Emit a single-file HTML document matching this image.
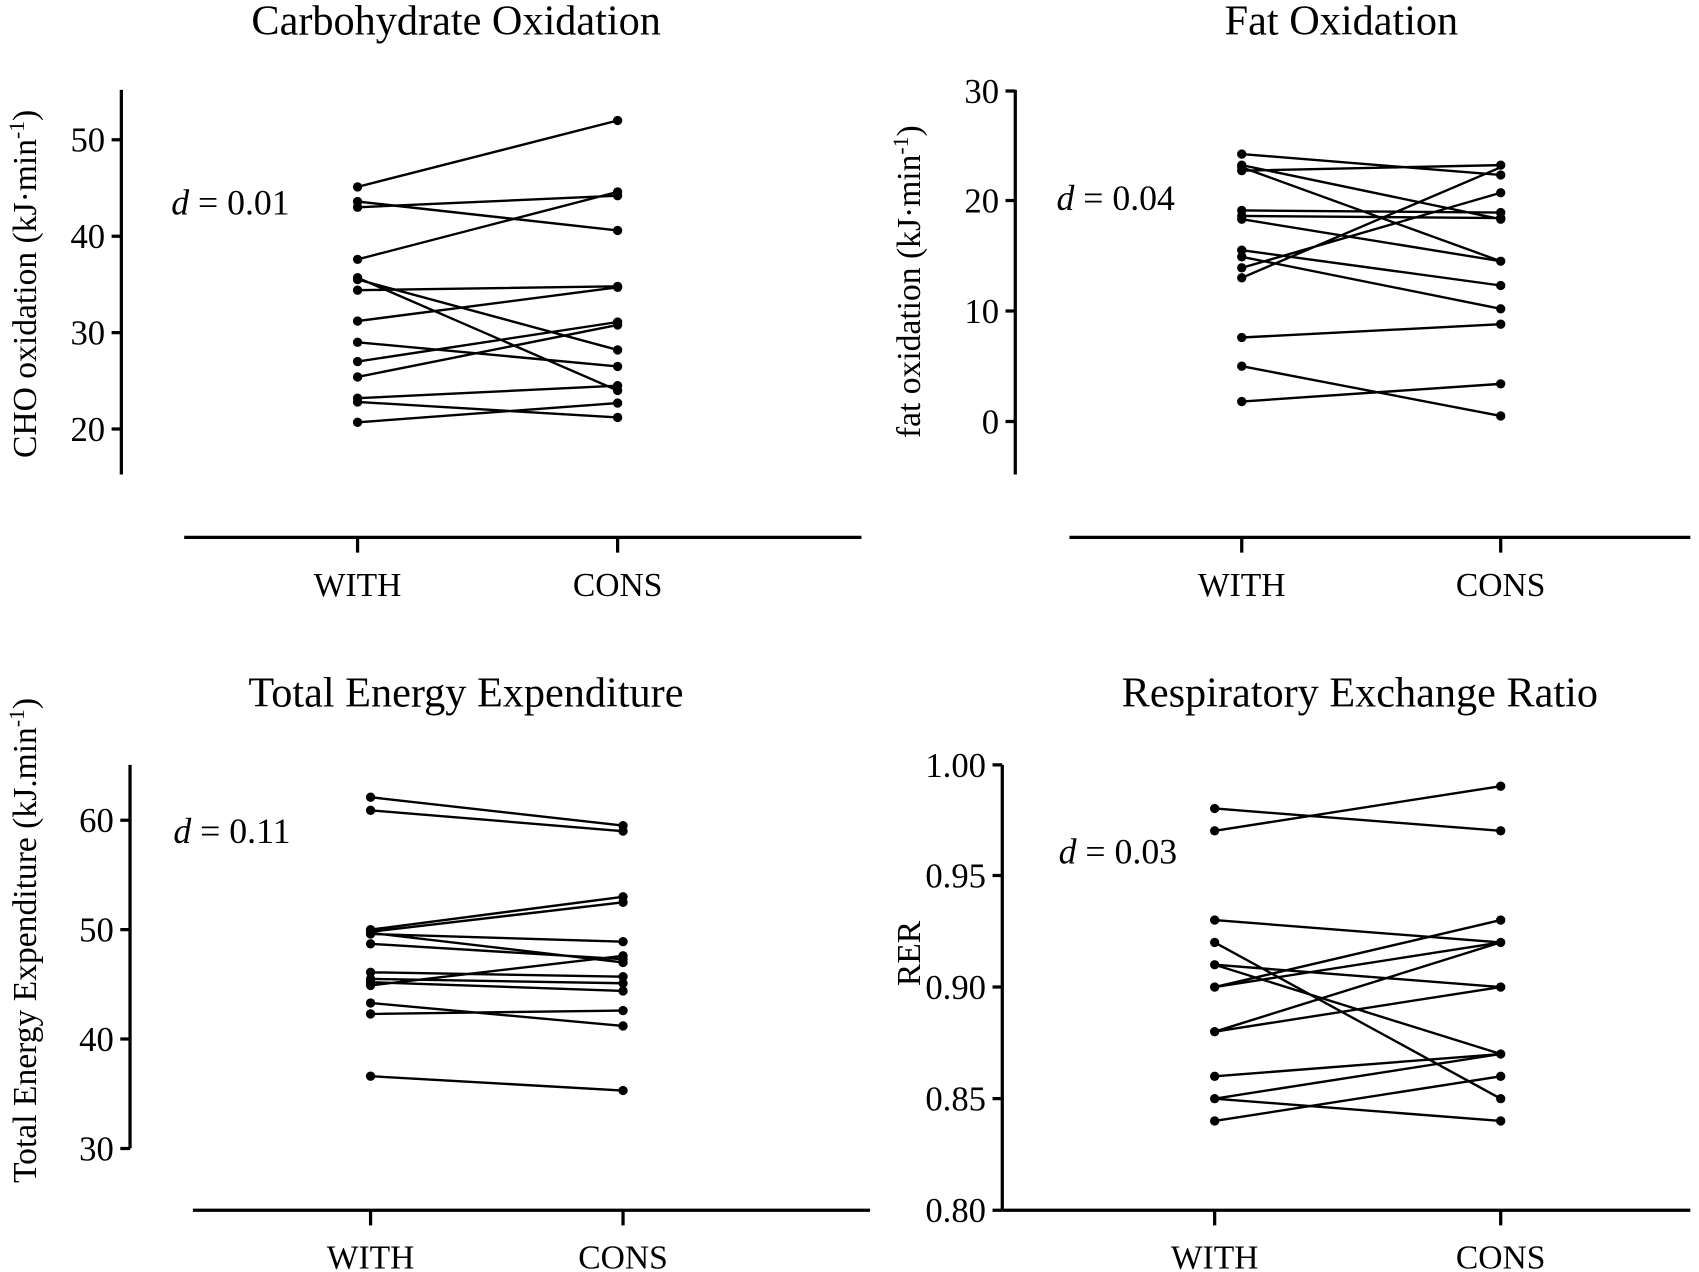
<!DOCTYPE html>
<html><head><style>html,body{margin:0;padding:0;background:#fff}svg{display:block}</style></head><body>
<svg width="1699" height="1272" viewBox="0 0 1568 1174" preserveAspectRatio="none" xmlns="http://www.w3.org/2000/svg" font-family="Liberation Serif, serif" fill="#000">
<g stroke="#000" stroke-width="3" fill="none">
<path d="M112 83V438M103 129H112M103 218H112M103 307H112M103 396H112"/>
<path d="M170 496H795M330 496V510M570 496V510"/>
<path d="M937 83V438M928 84H937M928 185H937M928 287H937M928 389H937"/>
<path d="M987 496H1560M1146 496V510M1385 496V510"/>
<path d="M120 706V1060M111 757H120M111 858H120M111 959H120M111 1060H120"/>
<path d="M178 1117H803M342 1117V1131M575 1117V1131"/>
<path d="M925 706V1117M916 706H925M916 808H925M916 911H925M916 1014H925M916 1117H925"/>
<path d="M925 1117H1560M1121 1117V1131M1385 1117V1131"/>
</g>
<g stroke="#000" stroke-width="2.2" fill="none">
<path d="M330 172.5L570 111.2M330 186L570 212.7M330 191.3L570 180.6M330 239.4L570 177.1M330 256.3L570 360.4M330 258L570 323M330 267.8L570 264.3M330 296.3L570 265.2M330 315.9L570 338.2M330 333.7L570 297.2M330 347.9L570 299.9M330 367.5L570 356M330 371L570 385.3M330 389.8L570 372"/>
<path d="M1146 142.2L1385 161.5M1146 157.5L1385 152.4M1146 152.4L1385 202.3M1146 154.4L1385 241.1M1146 194.2L1385 196.2M1146 199.3L1385 201.3M1146 202.3L1385 241.1M1146 230.9L1385 263.5M1146 237L1385 285M1146 247.2L1385 177.9M1146 256.4L1385 154.4M1146 311.5L1385 299.2M1146 338L1385 383.9M1146 370.6L1385 354.3"/>
<path d="M342 735.8L575 762M342 747.9L575 767.1M342 858L575 827.7M342 860L575 832.8M342 861L575 888.3M342 862L575 869.1M342 871.1L575 885.3M342 897.4L575 901.4M342 903.5L575 907.5M342 906.5L575 914.6M342 909.5L575 882.2M342 925.7L575 946.9M342 935.8L575 932.7M342 993.3L575 1006.5"/>
<path d="M1121 746.2L1385 766.8M1121 766.8L1385 725.6M1121 849.2L1385 869.8M1121 869.8L1385 1014M1121 890.4L1385 911M1121 890.4L1385 972.8M1121 911L1385 869.8M1121 911L1385 849.2M1121 952.2L1385 869.8M1121 952.2L1385 911M1121 993.4L1385 972.8M1121 1014L1385 972.8M1121 1014L1385 1034.6M1121 1034.6L1385 993.4"/>
</g>
<g>
<circle cx="330" cy="172.5" r="4.3"/><circle cx="570" cy="111.2" r="4.3"/><circle cx="330" cy="186" r="4.3"/><circle cx="570" cy="212.7" r="4.3"/><circle cx="330" cy="191.3" r="4.3"/><circle cx="570" cy="180.6" r="4.3"/><circle cx="330" cy="239.4" r="4.3"/><circle cx="570" cy="177.1" r="4.3"/><circle cx="330" cy="256.3" r="4.3"/><circle cx="570" cy="360.4" r="4.3"/><circle cx="330" cy="258" r="4.3"/><circle cx="570" cy="323" r="4.3"/><circle cx="330" cy="267.8" r="4.3"/><circle cx="570" cy="264.3" r="4.3"/><circle cx="330" cy="296.3" r="4.3"/><circle cx="570" cy="265.2" r="4.3"/><circle cx="330" cy="315.9" r="4.3"/><circle cx="570" cy="338.2" r="4.3"/><circle cx="330" cy="333.7" r="4.3"/><circle cx="570" cy="297.2" r="4.3"/><circle cx="330" cy="347.9" r="4.3"/><circle cx="570" cy="299.9" r="4.3"/><circle cx="330" cy="367.5" r="4.3"/><circle cx="570" cy="356" r="4.3"/><circle cx="330" cy="371" r="4.3"/><circle cx="570" cy="385.3" r="4.3"/><circle cx="330" cy="389.8" r="4.3"/><circle cx="570" cy="372" r="4.3"/>
<circle cx="1146" cy="142.2" r="4.3"/><circle cx="1385" cy="161.5" r="4.3"/><circle cx="1146" cy="157.5" r="4.3"/><circle cx="1385" cy="152.4" r="4.3"/><circle cx="1146" cy="152.4" r="4.3"/><circle cx="1385" cy="202.3" r="4.3"/><circle cx="1146" cy="154.4" r="4.3"/><circle cx="1385" cy="241.1" r="4.3"/><circle cx="1146" cy="194.2" r="4.3"/><circle cx="1385" cy="196.2" r="4.3"/><circle cx="1146" cy="199.3" r="4.3"/><circle cx="1385" cy="201.3" r="4.3"/><circle cx="1146" cy="202.3" r="4.3"/><circle cx="1146" cy="230.9" r="4.3"/><circle cx="1385" cy="263.5" r="4.3"/><circle cx="1146" cy="237" r="4.3"/><circle cx="1385" cy="285" r="4.3"/><circle cx="1146" cy="247.2" r="4.3"/><circle cx="1385" cy="177.9" r="4.3"/><circle cx="1146" cy="256.4" r="4.3"/><circle cx="1146" cy="311.5" r="4.3"/><circle cx="1385" cy="299.2" r="4.3"/><circle cx="1146" cy="338" r="4.3"/><circle cx="1385" cy="383.9" r="4.3"/><circle cx="1146" cy="370.6" r="4.3"/><circle cx="1385" cy="354.3" r="4.3"/>
<circle cx="342" cy="735.8" r="4.3"/><circle cx="575" cy="762" r="4.3"/><circle cx="342" cy="747.9" r="4.3"/><circle cx="575" cy="767.1" r="4.3"/><circle cx="342" cy="858" r="4.3"/><circle cx="575" cy="827.7" r="4.3"/><circle cx="342" cy="860" r="4.3"/><circle cx="575" cy="832.8" r="4.3"/><circle cx="342" cy="861" r="4.3"/><circle cx="575" cy="888.3" r="4.3"/><circle cx="342" cy="862" r="4.3"/><circle cx="575" cy="869.1" r="4.3"/><circle cx="342" cy="871.1" r="4.3"/><circle cx="575" cy="885.3" r="4.3"/><circle cx="342" cy="897.4" r="4.3"/><circle cx="575" cy="901.4" r="4.3"/><circle cx="342" cy="903.5" r="4.3"/><circle cx="575" cy="907.5" r="4.3"/><circle cx="342" cy="906.5" r="4.3"/><circle cx="575" cy="914.6" r="4.3"/><circle cx="342" cy="909.5" r="4.3"/><circle cx="575" cy="882.2" r="4.3"/><circle cx="342" cy="925.7" r="4.3"/><circle cx="575" cy="946.9" r="4.3"/><circle cx="342" cy="935.8" r="4.3"/><circle cx="575" cy="932.7" r="4.3"/><circle cx="342" cy="993.3" r="4.3"/><circle cx="575" cy="1006.5" r="4.3"/>
<circle cx="1121" cy="746.2" r="4.3"/><circle cx="1385" cy="766.8" r="4.3"/><circle cx="1121" cy="766.8" r="4.3"/><circle cx="1385" cy="725.6" r="4.3"/><circle cx="1121" cy="849.2" r="4.3"/><circle cx="1385" cy="869.8" r="4.3"/><circle cx="1121" cy="869.8" r="4.3"/><circle cx="1385" cy="1014" r="4.3"/><circle cx="1121" cy="890.4" r="4.3"/><circle cx="1385" cy="911" r="4.3"/><circle cx="1385" cy="972.8" r="4.3"/><circle cx="1121" cy="911" r="4.3"/><circle cx="1385" cy="849.2" r="4.3"/><circle cx="1121" cy="952.2" r="4.3"/><circle cx="1121" cy="993.4" r="4.3"/><circle cx="1121" cy="1014" r="4.3"/><circle cx="1385" cy="1034.6" r="4.3"/><circle cx="1121" cy="1034.6" r="4.3"/><circle cx="1385" cy="993.4" r="4.3"/>
</g>
<g font-size="39" text-anchor="middle">
<text x="421" y="32">Carbohydrate Oxidation</text>
<text x="1238" y="32">Fat Oxidation</text>
<text x="430" y="652">Total Energy Expenditure</text>
<text x="1255" y="652">Respiratory Exchange Ratio</text>
</g>
<g font-size="31" text-anchor="middle">
<text x="330" y="550">WITH</text><text x="570" y="550">CONS</text>
<text x="1146" y="550">WITH</text><text x="1385" y="550">CONS</text>
<text x="342" y="1171">WITH</text><text x="575" y="1171">CONS</text>
<text x="1121" y="1171">WITH</text><text x="1385" y="1171">CONS</text>
</g>
<g font-size="32" text-anchor="end">
<text x="97" y="140">50</text><text x="97" y="229">40</text><text x="97" y="318">30</text><text x="97" y="407">20</text>
<text x="922" y="95">30</text><text x="922" y="196">20</text><text x="922" y="298">10</text><text x="922" y="400">0</text>
<text x="105" y="768">60</text><text x="105" y="869">50</text><text x="105" y="970">40</text><text x="105" y="1071">30</text>
<text x="910" y="717">1.00</text><text x="910" y="819">0.95</text><text x="910" y="922">0.90</text><text x="910" y="1025">0.85</text><text x="910" y="1128">0.80</text>
</g>
<g font-size="33">
<text x="158" y="198"><tspan font-style="italic">d</tspan> = 0.01</text>
<text x="975" y="194"><tspan font-style="italic">d</tspan> = 0.04</text>
<text x="160" y="778"><tspan font-style="italic">d</tspan> = 0.11</text>
<text x="977" y="797"><tspan font-style="italic">d</tspan> = 0.03</text>
</g>
<g font-size="31" text-anchor="middle">
<text transform="translate(33 262) rotate(-90)">CHO oxidation (kJ·min<tspan dy="-11" font-size="20">-1</tspan><tspan dy="11">)</tspan></text>
<text transform="translate(849 260) rotate(-90)">fat oxidation (kJ·min<tspan dy="-11" font-size="20">-1</tspan><tspan dy="11">)</tspan></text>
<text transform="translate(33 868) rotate(-90)">Total Energy Expenditure (kJ.min<tspan dy="-11" font-size="20">-1</tspan><tspan dy="11">)</tspan></text>
<text transform="translate(849 880) rotate(-90)">RER</text>
</g>
</svg>
</body></html>
